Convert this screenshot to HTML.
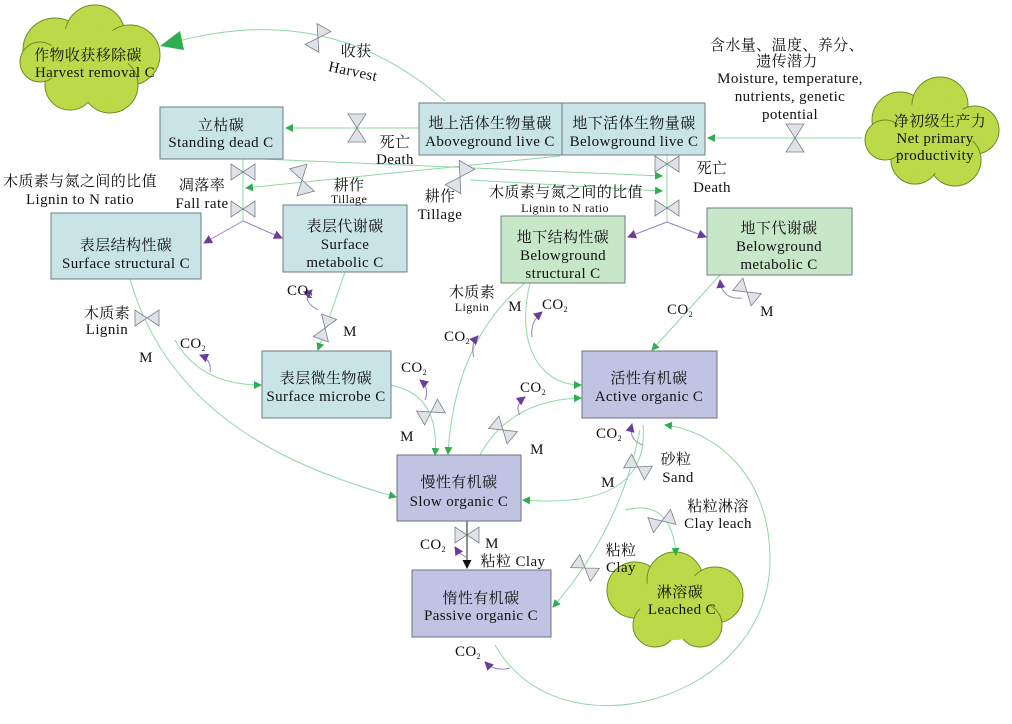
<!DOCTYPE html>
<html><head><meta charset="utf-8"><style>
body{margin:0;background:#fff}
svg{display:block}
text{font-family:"Liberation Serif","Noto Serif CJK SC","Noto Sans CJK SC",serif;font-size:15px;letter-spacing:0.4px;fill:#111;text-anchor:middle}
.s{font-size:12px}
.g{fill:none;stroke:#8fd8a6;stroke-width:1}
.p{fill:none;stroke:#9a80c0;stroke-width:1}
.v{fill:#dfe3e8;stroke:#7a8088;stroke-width:0.8}
.bt{fill:#c8e4e6;stroke:#6f7d80}
.bg{fill:#c8e6c8;stroke:#6f7d80}
.bl{fill:#c0c4e2;stroke:#6f7080}
.cl{fill:#bcd94a;stroke:#6c8c24;stroke-width:1}
</style></head><body>
<svg width="1012" height="724" viewBox="0 0 1012 724" xmlns="http://www.w3.org/2000/svg">
<defs>
<marker id="ag" markerWidth="8" markerHeight="8" refX="7" refY="4" orient="auto" markerUnits="userSpaceOnUse"><path d="M0,0L8,4L0,8z" fill="#2fae50"/></marker>
<marker id="ap" markerWidth="9" markerHeight="9" refX="8" refY="4.5" orient="auto" markerUnits="userSpaceOnUse"><path d="M0,0L9,4.5L0,9z" fill="#6a3d9a"/></marker>
<marker id="ak" markerWidth="9" markerHeight="9" refX="8" refY="4.5" orient="auto" markerUnits="userSpaceOnUse"><path d="M0,0L9,4.5L0,9z" fill="#111"/></marker>
<path id="vh" d="M-9,-14L9,-14L0,0z M-9,14L9,14L0,0z"/>
<path id="vb" d="M-12,-8L-12,8L0,0z M12,-8L12,8L0,0z"/>
</defs>

<!-- clouds -->
<g class="cl">
<circle cx="55" cy="50" r="32"/><circle cx="95" cy="35" r="30"/><circle cx="130" cy="55" r="30"/><circle cx="110" cy="85" r="28"/><circle cx="70" cy="85" r="25"/><circle cx="40" cy="62" r="20"/>
<circle cx="900" cy="120" r="28"/><circle cx="940" cy="105" r="28"/><circle cx="975" cy="130" r="24"/><circle cx="955" cy="160" r="26"/><circle cx="915" cy="160" r="24"/><circle cx="885" cy="140" r="20"/>
<circle cx="635" cy="590" r="28"/><circle cx="675" cy="580" r="28"/><circle cx="715" cy="595" r="28"/><circle cx="700" cy="625" r="22"/><circle cx="655" cy="625" r="22"/>
</g>
<g class="cl" style="stroke:none">
<circle cx="88" cy="62" r="40"/><circle cx="935" cy="135" r="38"/><circle cx="675" cy="605" r="35"/>
</g>

<!-- flows -->
<path class="g" d="M445,101 Q330,0 175,42"/>
<path d="M160,46L180,31L184,50z" fill="#2fae50"/>
<path class="g" d="M419,128L286,128" marker-end="url(#ag)"/>
<path class="g" d="M862,138L708,138" marker-end="url(#ag)"/>
<path class="g" d="M262,159L662,176" marker-end="url(#ag)"/>
<path class="g" d="M560,156L246,188" marker-end="url(#ag)"/>
<path class="g" d="M470,180L662,191" marker-end="url(#ag)"/>
<path class="g" d="M243,159L243,221"/>
<path class="p" d="M243,221L204,243" marker-end="url(#ap)"/>
<path class="p" d="M243,221L282,238" marker-end="url(#ap)"/>
<path class="g" d="M667,155L667,222"/>
<path class="p" d="M667,222L628,237" marker-end="url(#ap)"/>
<path class="p" d="M667,222L706,237" marker-end="url(#ap)"/>
<path class="g" d="M345,272L318,350" marker-end="url(#ag)"/>
<path class="p" d="M318,310Q300,300 312,290" marker-end="url(#ap)"/>
<path class="g" d="M130,279 C170,420 300,470 396,497" marker-end="url(#ag)"/>
<path class="g" d="M175,340 Q200,385 261,385" marker-end="url(#ag)"/>
<path class="p" d="M210,372Q212,360 200,355" marker-end="url(#ap)"/>
<path class="g" d="M391,385 Q440,395 435,455" marker-end="url(#ag)"/>
<path class="p" d="M425,400Q430,388 420,380" marker-end="url(#ap)"/>
<path class="g" d="M525,283 Q455,340 448,454" marker-end="url(#ag)"/>
<path class="p" d="M474,357Q470,345 478,336" marker-end="url(#ap)"/>
<path class="g" d="M530,283 C515,345 540,385 581,385" marker-end="url(#ag)"/>
<path class="p" d="M532,337Q530,322 542,312" marker-end="url(#ap)"/>
<path class="g" d="M720,275L652,350" marker-end="url(#ag)"/>
<path class="p" d="M742,298Q722,300 720,280" marker-end="url(#ap)"/>
<path class="g" d="M480,455 Q510,400 581,398" marker-end="url(#ag)"/>
<path class="p" d="M520,415Q514,405 525,397" marker-end="url(#ap)"/>
<path class="g" d="M643,425 Q650,510 523,500" marker-end="url(#ag)"/>
<path class="p" d="M643,445Q628,440 632,424" marker-end="url(#ap)"/>
<path class="g" d="M640,430 Q620,530 553,607" marker-end="url(#ag)"/>
<path class="g" d="M625,510 Q672,498 676,555" marker-end="url(#ag)"/>
<path class="g" d="M495,645 C560,760 770,700 770,560 C770,470 710,430 665,425" marker-end="url(#ag)"/>
<path d="M467,521L467,568" stroke="#222" fill="none" marker-end="url(#ak)"/>
<path class="p" d="M468,558Q460,555 455,547" marker-end="url(#ap)"/>
<path class="p" d="M510,668Q495,672 485,662" marker-end="url(#ap)"/>

<!-- valves -->
<g class="v">
<use href="#vb" transform="translate(318,38) rotate(-60)"/>
<use href="#vh" transform="translate(357,128)"/>
<use href="#vh" transform="translate(795,138)"/>
<use href="#vb" transform="translate(243,172)"/>
<use href="#vb" transform="translate(243,209)"/>
<use href="#vh" transform="translate(302,180) rotate(-15)"/>
<use href="#vh" transform="translate(460,177) rotate(30)"/>
<use href="#vb" transform="translate(667,164)"/>
<use href="#vb" transform="translate(667,208)"/>
<use href="#vb" transform="translate(325,328) rotate(-70)"/>
<use href="#vb" transform="translate(147,318)"/>
<use href="#vb" transform="translate(431,412) rotate(-30)"/>
<use href="#vb" transform="translate(747,292) rotate(40)"/>
<use href="#vb" transform="translate(503,430) rotate(40)"/>
<use href="#vb" transform="translate(638,467) rotate(30)"/>
<use href="#vb" transform="translate(585,568) rotate(35)"/>
<use href="#vb" transform="translate(662,521) rotate(-20)"/>
<use href="#vb" transform="translate(467,535)"/>
</g>

<!-- boxes -->
<rect class="bt" x="160" y="107" width="123" height="52"/>
<text x="221" y="130">立枯碳</text><text x="221" y="147">Standing dead C</text>
<rect class="bt" x="419" y="103" width="143" height="52"/>
<text x="490" y="128">地上活体生物量碳</text><text x="490" y="146">Aboveground live C</text>
<rect class="bt" x="562" y="103" width="143" height="52"/>
<text x="634" y="128">地下活体生物量碳</text><text x="634" y="146">Belowground live C</text>
<rect class="bt" x="51" y="213" width="150" height="66"/>
<text x="126" y="250">表层结构性碳</text><text x="126" y="268">Surface structural C</text>
<rect class="bt" x="283" y="205" width="124" height="67"/>
<text x="345" y="231">表层代谢碳</text><text x="345" y="249">Surface</text><text x="345" y="267">metabolic C</text>
<rect class="bg" x="501" y="216" width="124" height="67"/>
<text x="563" y="242">地下结构性碳</text><text x="563" y="260">Belowground</text><text x="563" y="278">structural C</text>
<rect class="bg" x="707" y="208" width="145" height="67"/>
<text x="779" y="233">地下代谢碳</text><text x="779" y="251">Belowground</text><text x="779" y="269">metabolic C</text>
<rect class="bt" x="262" y="351" width="129" height="67"/>
<text x="326" y="383">表层微生物碳</text><text x="326" y="401">Surface microbe C</text>
<rect class="bl" x="582" y="351" width="135" height="67"/>
<text x="649" y="383">活性有机碳</text><text x="649" y="401">Active  organic C</text>
<rect class="bl" x="397" y="455" width="124" height="66"/>
<text x="459" y="487">慢性有机碳</text><text x="459" y="506">Slow organic C</text>
<rect class="bl" x="412" y="570" width="139" height="67"/>
<text x="481" y="603">惰性有机碳</text><text x="481" y="620">Passive organic C</text>

<!-- cloud labels -->
<text x="88" y="60">作物收获移除碳</text><text x="95" y="77">Harvest removal C</text>
<text x="940" y="126">净初级生产力</text><text x="935" y="143">Net primary</text><text x="935" y="160">productivity</text>
<text x="680" y="597">淋溶碳</text><text x="682" y="614">Leached C</text>

<!-- labels -->
<text x="356" y="56">收获</text><text x="352" y="76" transform="rotate(12 352 76)">Harvest</text>
<text x="395" y="147">死亡</text><text x="395" y="164">Death</text>
<text x="787" y="50">含水量、温度、养分、</text><text x="787" y="66">遗传潜力</text>
<text x="790" y="83">Moisture, temperature,</text><text x="790" y="101">nutrients, genetic</text><text x="790" y="119">potential</text>
<text x="712" y="173">死亡</text><text x="712" y="192">Death</text>
<text x="80" y="186">木质素与氮之间的比值</text><text x="80" y="204">Lignin to N ratio</text>
<text x="202" y="190">凋落率</text><text x="202" y="208">Fall rate</text>
<text x="349" y="190">耕作</text><text class="s" x="349" y="203">Tillage</text>
<text x="440" y="201">耕作</text><text x="440" y="219">Tillage</text>
<text x="566" y="197">木质素与氮之间的比值</text><text class="s" x="565" y="212">Lignin to N ratio</text>
<text x="300" y="295">CO<tspan font-size="8" dy="3">2</tspan></text>
<text x="350" y="336">M</text>
<text x="107" y="318">木质素</text><text x="107" y="334">Lignin</text>
<text x="146" y="362">M</text>
<text x="193" y="348">CO<tspan font-size="8" dy="3">2</tspan></text>
<text x="414" y="372">CO<tspan font-size="8" dy="3">2</tspan></text>
<text x="407" y="441">M</text>
<text x="472" y="297">木质素</text><text class="s" x="472" y="311">Lignin</text>
<text x="515" y="311">M</text>
<text x="555" y="309">CO<tspan font-size="8" dy="3">2</tspan></text>
<text x="457" y="341">CO<tspan font-size="8" dy="3">2</tspan></text>
<text x="680" y="314">CO<tspan font-size="8" dy="3">2</tspan></text>
<text x="767" y="316">M</text>
<text x="533" y="392">CO<tspan font-size="8" dy="3">2</tspan></text>
<text x="537" y="454">M</text>
<text x="609" y="438">CO<tspan font-size="8" dy="3">2</tspan></text>
<text x="676" y="464">砂粒</text><text x="678" y="482">Sand</text>
<text x="608" y="487">M</text>
<text x="718" y="511">粘粒淋溶</text><text x="718" y="528">Clay leach</text>
<text x="621" y="555">粘粒</text><text x="621" y="572">Clay</text>
<text x="433" y="549">CO<tspan font-size="8" dy="3">2</tspan></text>
<text x="492" y="548">M</text>
<text x="513" y="566">粘粒 Clay</text>
<text x="468" y="656">CO<tspan font-size="8" dy="3">2</tspan></text>
</svg>
</body></html>
